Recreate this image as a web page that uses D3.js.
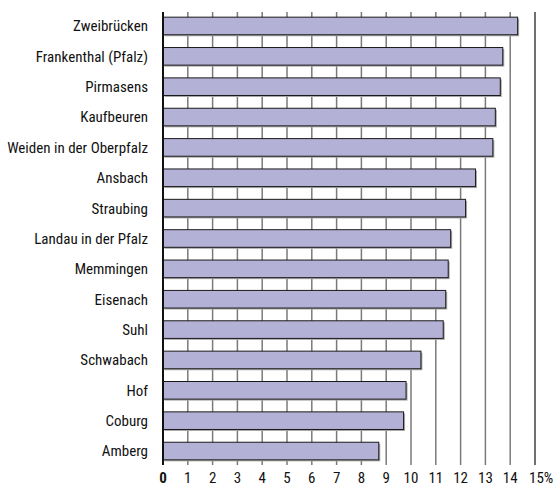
<!DOCTYPE html>
<html>
<head>
<meta charset="utf-8">
<script src="https://cdn.jsdelivr.net/npm/d3@7"></script>
<style>
  body { margin: 0; background: #fff; }
  text { font-family: "Liberation Sans Narrow", "Roboto Condensed", "DejaVu Sans Condensed", sans-serif; fill: #111; }
</style>
</head>
<body>
<svg width="556" height="488"></svg>
<script>
var cities = ["Zweibrücken", "Frankenthal (Pfalz)", "Pirmasens", "Kaufbeuren", "Weiden in der Oberpfalz",
  "Ansbach", "Straubing", "Landau in der Pfalz", "Memmingen", "Eisenach", "Suhl", "Schwabach",
  "Hof", "Coburg", "Amberg"];
var values = [14.3, 13.7, 13.6, 13.4, 13.3, 12.6, 12.2, 11.6, 11.5, 11.4, 11.3, 10.4, 9.8, 9.7, 8.7];
var tickValues = d3.range(0, 16);

const svg = d3.select("svg");
var plotTop = 12, plotBottom = 465, plotLeft = 163, plotRight = 535;

var x = d3.scaleLinear().domain([0, 15]).range([plotLeft, plotRight]);
var y = d3.scaleBand().domain(cities).range([plotTop, plotBottom]).paddingInner(0.42).paddingOuter(0.17);

// grid lines
svg.append("g")
  .selectAll("line")
  .data(tickValues.filter(function (d) { return d > 0 && d < 15; }))
  .join("line")
  .attr("x1", function (d) { return x(d); })
  .attr("x2", function (d) { return x(d); })
  .attr("y1", plotTop)
  .attr("y2", plotBottom)
  .attr("stroke", "#7a7a7a")
  .attr("stroke-width", 1.5);

// right border line at 15
svg.append("line")
  .attr("x1", x(15)).attr("x2", x(15))
  .attr("y1", plotTop).attr("y2", plotBottom)
  .attr("stroke", "#111").attr("stroke-width", 1.2);

// bar shadows
svg.append("g")
  .selectAll("rect")
  .data(values)
  .join("rect")
  .attr("x", x(0) + 1.5)
  .attr("y", function (d, i) { return y(cities[i]) + 1.5; })
  .attr("width", function (d) { return x(d) - x(0); })
  .attr("height", y.bandwidth())
  .attr("fill", "#a8a8a8");

// bars
svg.append("g")
  .selectAll("rect")
  .data(values)
  .join("rect")
  .attr("x", x(0))
  .attr("y", function (d, i) { return y(cities[i]); })
  .attr("width", function (d) { return x(d) - x(0); })
  .attr("height", y.bandwidth())
  .attr("fill", "#b4b1d6")
  .attr("stroke", "#1a1a1a")
  .attr("stroke-width", 1);

// zero axis
svg.append("line")
  .attr("x1", x(0)).attr("x2", x(0))
  .attr("y1", plotTop).attr("y2", plotBottom)
  .attr("stroke", "#111").attr("stroke-width", 2);

// category labels
svg.append("g")
  .selectAll("text")
  .data(cities)
  .join("text")
  .attr("x", 148)
  .attr("y", function (d) { return y(d) + y.bandwidth() / 2; })
  .attr("dy", "0.36em")
  .attr("text-anchor", "end")
  .attr("font-size", 15)
  .text(function (d) { return d; });

// x tick labels
svg.append("g")
  .selectAll("text")
  .data(tickValues)
  .join("text")
  .attr("x", function (d) { return x(d); })
  .attr("y", 483)
  .attr("text-anchor", function (d) { return d === 15 ? "start" : "middle"; })
  .attr("dx", function (d) { return d === 15 ? -6 : 0; })
  .attr("font-size", 15)
  .attr("font-weight", function (d) { return d === 0 ? "bold" : "normal"; })
  .text(function (d) { return d === 15 ? "15%" : d; });
</script>
</body>
</html>
